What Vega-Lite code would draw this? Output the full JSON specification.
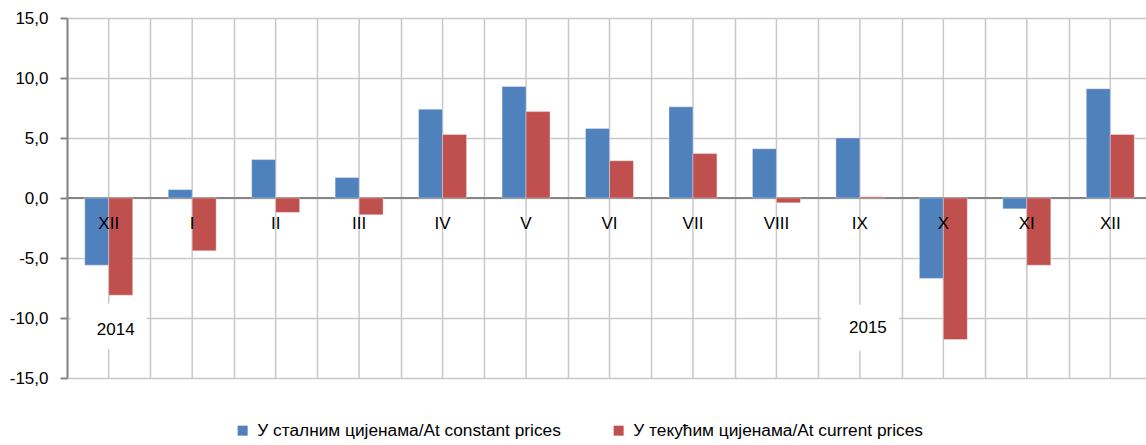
{
  "$schema": "https://vega.github.io/schema/vega-lite/v6.json",
  "width": 1085,
  "height": 360,
  "padding": {"left": 9, "top": 9, "right": 0, "bottom": 0},
  "config": {
    "view": {"stroke": null},
    "font": "Liberation Sans",
    "axis": {"labelFont": "Liberation Sans", "labelColor": "#000000"}
  },
  "data": {
    "values": [
      {"key": "XII-14", "label": "XII", "series": "У сталним цијенама/At constant prices", "value": -5.6},
      {"key": "I", "label": "I", "series": "У сталним цијенама/At constant prices", "value": 0.7},
      {"key": "II", "label": "II", "series": "У сталним цијенама/At constant prices", "value": 3.2},
      {"key": "III", "label": "III", "series": "У сталним цијенама/At constant prices", "value": 1.7},
      {"key": "IV", "label": "IV", "series": "У сталним цијенама/At constant prices", "value": 7.4},
      {"key": "V", "label": "V", "series": "У сталним цијенама/At constant prices", "value": 9.3},
      {"key": "VI", "label": "VI", "series": "У сталним цијенама/At constant prices", "value": 5.8},
      {"key": "VII", "label": "VII", "series": "У сталним цијенама/At constant prices", "value": 7.6},
      {"key": "VIII", "label": "VIII", "series": "У сталним цијенама/At constant prices", "value": 4.1},
      {"key": "IX", "label": "IX", "series": "У сталним цијенама/At constant prices", "value": 5.0},
      {"key": "X", "label": "X", "series": "У сталним цијенама/At constant prices", "value": -6.7},
      {"key": "XI", "label": "XI", "series": "У сталним цијенама/At constant prices", "value": -0.9},
      {"key": "XII-15", "label": "XII", "series": "У сталним цијенама/At constant prices", "value": 9.1},
      {"key": "XII-14", "label": "XII", "series": "У текућим цијенама/At current prices", "value": -8.1},
      {"key": "I", "label": "I", "series": "У текућим цијенама/At current prices", "value": -4.4},
      {"key": "II", "label": "II", "series": "У текућим цијенама/At current prices", "value": -1.2},
      {"key": "III", "label": "III", "series": "У текућим цијенама/At current prices", "value": -1.4},
      {"key": "IV", "label": "IV", "series": "У текућим цијенама/At current prices", "value": 5.3},
      {"key": "V", "label": "V", "series": "У текућим цијенама/At current prices", "value": 7.2},
      {"key": "VI", "label": "VI", "series": "У текућим цијенама/At current prices", "value": 3.1},
      {"key": "VII", "label": "VII", "series": "У текућим цијенама/At current prices", "value": 3.7},
      {"key": "VIII", "label": "VIII", "series": "У текућим цијенама/At current prices", "value": -0.4},
      {"key": "IX", "label": "IX", "series": "У текућим цијенама/At current prices", "value": 0.1},
      {"key": "X", "label": "X", "series": "У текућим цијенама/At current prices", "value": -11.8},
      {"key": "XI", "label": "XI", "series": "У текућим цијенама/At current prices", "value": -5.6},
      {"key": "XII-15", "label": "XII", "series": "У текућим цијенама/At current prices", "value": 5.3}
    ]
  },
  "encoding": {
    "x": {
      "field": "key",
      "type": "nominal",
      "sort": null,
      "scale": {"paddingInner": 0, "paddingOuter": 0},
      "axis": {
        "title": null,
        "labels": false,
        "ticks": false,
        "domain": false,
        "grid": true,
        "tickBand": "extent",
        "gridColor": "#c8c8c8",
        "gridWidth": 1.5
      }
    }
  },
  "layer": [
    {
      "transform": [{"filter": "datum.series === 'У сталним цијенама/At constant prices'"}],
      "mark": {"type": "rule", "color": "#c8c8c8", "strokeWidth": 1.5},
      "encoding": {
        "y": {
          "datum": 15,
          "type": "quantitative",
          "scale": {"domain": [-15, 15], "nice": false},
          "axis": {
            "title": null,
            "values": [-15, -10, -5, 0, 5, 10, 15],
            "labelExpr": "replace(replace(format(datum.value, '.1f'), '.', ','), '−', '-')",
            "labelFontSize": 17,
            "labelPadding": 12,
            "tickSize": 7,
            "tickColor": "#868686",
            "tickWidth": 2,
            "domainColor": "#868686",
            "domainWidth": 2,
            "grid": true,
            "gridColor": "#c8c8c8",
            "gridWidth": 1.5
          }
        },
        "y2": {"datum": -15}
      }
    },
    {
      "data": {"values": [{}]},
      "mark": {"type": "rule", "color": "#868686", "strokeWidth": 2},
      "encoding": {"x": null, "y": {"datum": 0, "type": "quantitative"}}
    },
    {
      "mark": {"type": "bar", "stroke": "#ffffff", "strokeOpacity": 0.35, "strokeWidth": 1},
      "encoding": {
        "xOffset": {
          "field": "series",
          "type": "nominal",
          "scale": {"paddingInner": 0, "paddingOuter": 0.74}
        },
        "y": {"field": "value", "type": "quantitative"},
        "y2": {"datum": 0},
        "color": {
          "field": "series",
          "type": "nominal",
          "scale": {
            "domain": ["У сталним цијенама/At constant prices", "У текућим цијенама/At current prices"],
            "range": ["#4f81bd", "#c0504d"]
          },
          "legend": {
            "title": null,
            "orient": "none",
            "direction": "horizontal",
            "legendX": 167,
            "legendY": 404,
            "symbolType": "square",
            "symbolSize": 100,
            "symbolStrokeWidth": 0,
            "labelFontSize": 17.3,
            "labelFont": "Liberation Sans",
            "labelColor": "#000000",
            "labelOffset": 6,
            "columnPadding": 49,
            "labelLimit": 500
          }
        }
      }
    },
    {
      "data": {"values": [{}]},
      "mark": {"type": "bar", "color": "#ffffff", "width": 76},
      "encoding": {
        "x": {"datum": "XII-14"},
        "y": {"datum": -8.8, "type": "quantitative"},
        "y2": {"datum": -12.6}
      }
    },
    {
      "data": {"values": [{}]},
      "mark": {"type": "bar", "color": "#ffffff", "width": 78},
      "encoding": {
        "x": {"datum": "IX"},
        "y": {"datum": -8.9, "type": "quantitative"},
        "y2": {"datum": -12.7}
      }
    },
    {
      "data": {"values": [{}]},
      "mark": {"type": "text", "fontSize": 17, "font": "Liberation Sans", "color": "#000000", "dx": 7, "baseline": "middle"},
      "encoding": {
        "x": {"datum": "XII-14"},
        "y": {"datum": -11.0, "type": "quantitative"},
        "text": {"value": "2014"}
      }
    },
    {
      "data": {"values": [{}]},
      "mark": {"type": "text", "fontSize": 17, "font": "Liberation Sans", "color": "#000000", "dx": 8, "baseline": "middle"},
      "encoding": {
        "x": {"datum": "IX"},
        "y": {"datum": -10.8, "type": "quantitative"},
        "text": {"value": "2015"}
      }
    },
    {
      "transform": [{"filter": "datum.series === 'У сталним цијенама/At constant prices'"}],
      "mark": {"type": "text", "fontSize": 17, "font": "Liberation Sans", "color": "#000000", "dy": 26, "baseline": "middle"},
      "encoding": {
        "y": {"datum": 0, "type": "quantitative"},
        "text": {"field": "label"}
      }
    }
  ]
}
